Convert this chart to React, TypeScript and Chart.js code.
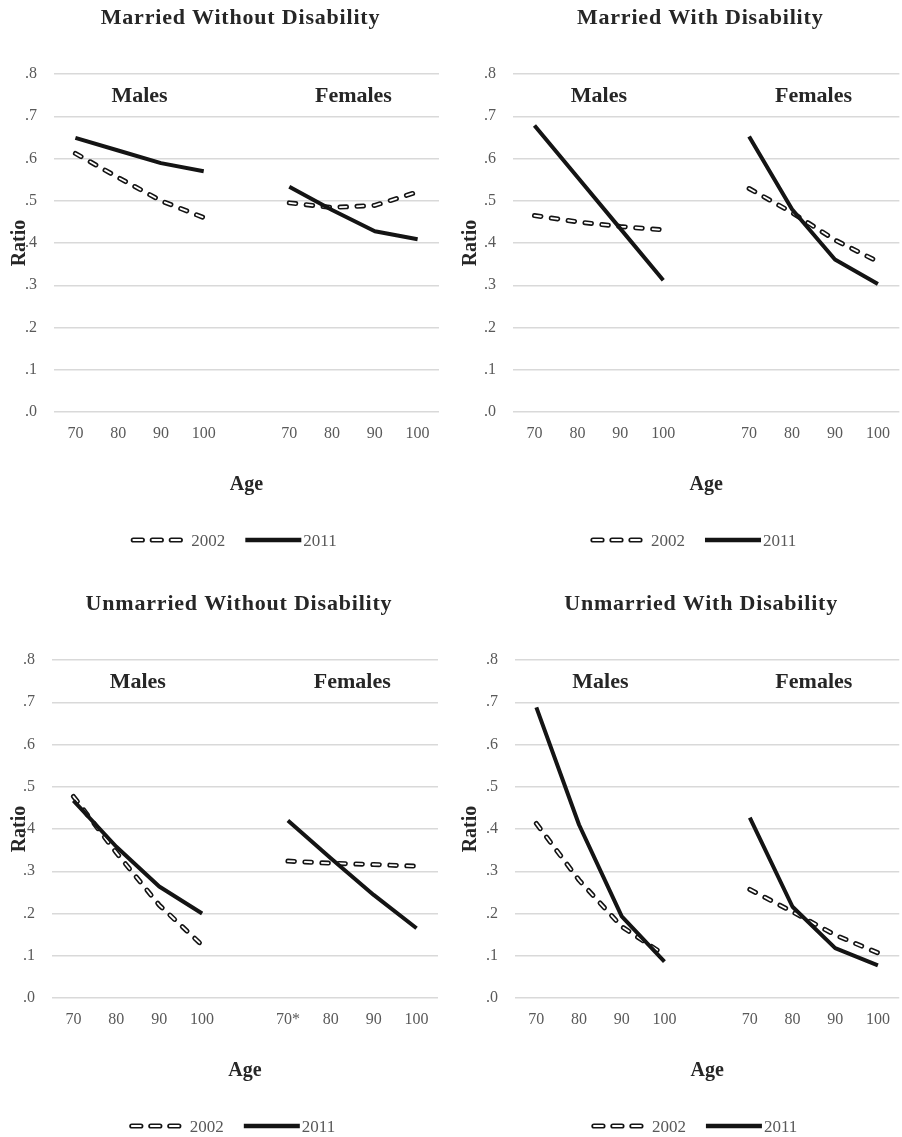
import React, { useEffect, useRef } from 'react';
import { Chart, registerables } from 'chart.js';

Chart.register(...registerables);

// ---------- data ----------
const maleAges = ['70', '80', '90', '100'];
const femaleAges = ['70', '80', '90', '100'];
const femaleAgesStar = ['70*', '80', '90', '100'];
const yTickLabels = ['.0', '.1', '.2', '.3', '.4', '.5', '.6', '.7', '.8'];
const sexLabels = ['Males', 'Females'];
const yearLabels = ['2002', '2011'];
const xAxisTitle = 'Age';
const yAxisTitle = 'Ratio';

const panelTitles = [
  'Married Without Disability',
  'Married With Disability',
  'Unmarried Without Disability',
  'Unmarried With Disability',
];

// Married Without Disability
const mwdMale2002 = [0.612, 0.555, 0.5, 0.46];
const mwdMale2011 = [0.649, 0.619, 0.589, 0.57];
const mwdFemale2002 = [0.495, 0.484, 0.489, 0.521];
const mwdFemale2011 = [0.533, 0.478, 0.428, 0.409];

// Married With Disability
const mdMale2002 = [0.465, 0.45, 0.439, 0.431];
const mdMale2011 = [0.678, 0.556, 0.434, 0.312];
const mdFemale2002 = [0.529, 0.472, 0.407, 0.356];
const mdFemale2011 = [0.652, 0.48, 0.361, 0.303];

// Unmarried Without Disability
const uwdMale2002 = [0.477, 0.344, 0.22, 0.125];
const uwdMale2011 = [0.467, 0.358, 0.264, 0.2];
const uwdFemale2002 = [0.324, 0.319, 0.316, 0.312];
const uwdFemale2011 = [0.42, 0.331, 0.244, 0.165];

// Unmarried With Disability
const udMale2002 = [0.413, 0.279, 0.169, 0.102];
const udMale2011 = [0.688, 0.41, 0.193, 0.086];
const udFemale2002 = [0.257, 0.204, 0.149, 0.107];
const udFemale2011 = [0.427, 0.216, 0.118, 0.077];

// ---------- styling ----------
const FONT = "'Liberation Serif', 'Times New Roman', serif";
const TEXT_DARK = '#262626';
const TEXT_GREY = '#595959';
const LINE_COLOR = '#141414';
const GRID_COLOR = '#d9d9d9';

type PanelSpec = {
  title: string;
  femaleLabels: string[];
  m02: number[];
  m11: number[];
  f02: number[];
  f11: number[];
  left: number;
  top: number;
  width: number;
  height: number;
  areaLeft: number;
  areaRight: number;
  areaTop: number;
  areaBottom: number;
};

const panels: PanelSpec[] = [
  { title: panelTitles[0], femaleLabels: femaleAges, m02: mwdMale2002, m11: mwdMale2011, f02: mwdFemale2002, f11: mwdFemale2011,
    left: 0, top: 0, width: 451, height: 587, areaLeft: 54, areaRight: 439, areaTop: 74, areaBottom: 412 },
  { title: panelTitles[1], femaleLabels: femaleAges, m02: mdMale2002, m11: mdMale2011, f02: mdFemale2002, f11: mdFemale2011,
    left: 451, top: 0, width: 451, height: 587, areaLeft: 62, areaRight: 449, areaTop: 74, areaBottom: 412 },
  { title: panelTitles[2], femaleLabels: femaleAgesStar, m02: uwdMale2002, m11: uwdMale2011, f02: uwdFemale2002, f11: uwdFemale2011,
    left: 0, top: 587, width: 451, height: 550, areaLeft: 52, areaRight: 438, areaTop: 73, areaBottom: 411 },
  { title: panelTitles[3], femaleLabels: femaleAges, m02: udMale2002, m11: udMale2011, f02: udFemale2002, f11: udFemale2011,
    left: 451, top: 587, width: 451, height: 550, areaLeft: 64, areaRight: 449, areaTop: 73, areaBottom: 411 },
];

const X_SCALE_H = 30;

function drawPill(ctx: CanvasRenderingContext2D, x0: number, x1: number, y: number) {
  ctx.beginPath();
  ctx.moveTo(x0, y);
  ctx.lineTo(x1, y);
  ctx.strokeStyle = LINE_COLOR;
  ctx.lineWidth = 5.2;
  ctx.lineCap = 'round';
  ctx.stroke();
  ctx.beginPath();
  ctx.moveTo(x0, y);
  ctx.lineTo(x1, y);
  ctx.strokeStyle = '#ffffff';
  ctx.lineWidth = 1.8;
  ctx.stroke();
}

function Panel({ spec }: { spec: PanelSpec }) {
  const ref = useRef<HTMLCanvasElement | null>(null);

  useEffect(() => {
    if (!ref.current) return;
    const labels = [...maleAges, '', ...spec.femaleLabels];
    const d02 = [...spec.m02, null, ...spec.f02];
    const d11 = [...spec.m11, null, ...spec.f11];

    const overlay = {
      id: 'overlay',
      afterDraw(chart: any) {
        const { ctx, chartArea } = chart;
        const xs = chart.scales.x;
        const cx = (chartArea.left + chartArea.right) / 2;
        ctx.save();
        ctx.setLineDash([]);
        ctx.fillStyle = TEXT_DARK;
        ctx.textAlign = 'center';
        ctx.textBaseline = 'alphabetic';

        // title
        ctx.font = `bold 22px ${FONT}`;
        (ctx as any).letterSpacing = '0.8px';
        ctx.fillText(spec.title, cx - 6, chartArea.top - 50);
        (ctx as any).letterSpacing = '0px';

        // Males / Females
        ctx.font = `bold 22px ${FONT}`;
        ctx.fillText(sexLabels[0], xs.getPixelForValue(1.5), chartArea.top + 28);
        ctx.fillText(sexLabels[1], xs.getPixelForValue(6.5), chartArea.top + 28);

        // x axis title
        ctx.font = `bold 20px ${FONT}`;
        ctx.fillText(xAxisTitle, cx, chartArea.bottom + 78);

        // y axis title
        ctx.save();
        ctx.translate(24.5, (chartArea.top + chartArea.bottom) / 2);
        ctx.rotate(-Math.PI / 2);
        ctx.fillText(yAxisTitle, 0, 0);
        ctx.restore();

        // legend
        ctx.font = `17px ${FONT}`;
        const w1 = ctx.measureText(yearLabels[0]).width;
        const w2 = ctx.measureText(yearLabels[1]).width;
        const s1 = 54, g1 = 7, g2 = 20, s2 = 56, g3 = 2;
        const total = s1 + g1 + w1 + g2 + s2 + g3 + w2;
        let x = cx - 13 - total / 2;
        const ly = chartArea.bottom + 128;
        for (let i = 0; i < 3; i++) {
          const px = x + 3 + i * 19;
          drawPill(ctx, px, px + 9, ly);
        }
        x += s1 + g1;
        ctx.fillStyle = TEXT_GREY;
        ctx.textAlign = 'left';
        ctx.fillText(yearLabels[0], x, ly + 6);
        x += w1 + g2;
        ctx.beginPath();
        ctx.moveTo(x, ly);
        ctx.lineTo(x + s2, ly);
        ctx.strokeStyle = LINE_COLOR;
        ctx.lineWidth = 4.5;
        ctx.lineCap = 'butt';
        ctx.stroke();
        x += s2 + g3;
        ctx.fillText(yearLabels[1], x, ly + 6);
        ctx.restore();
      },
    };

    const chart = new Chart(ref.current, {
      type: 'line',
      data: {
        labels,
        datasets: [
          {
            label: yearLabels[1],
            data: d11,
            borderColor: LINE_COLOR,
            borderWidth: 4,
            borderCapStyle: 'butt',
            borderJoinStyle: 'round',
            pointRadius: 0,
            spanGaps: false,
            tension: 0,
            order: 0,
          },
          {
            label: yearLabels[0] + ' inner',
            data: d02,
            borderColor: '#ffffff',
            borderWidth: 1.8,
            borderDash: [6.5, 10.5],
            borderCapStyle: 'round',
            borderJoinStyle: 'round',
            pointRadius: 0,
            spanGaps: false,
            tension: 0,
            order: 1,
          },
          {
            label: yearLabels[0],
            data: d02,
            borderColor: LINE_COLOR,
            borderWidth: 5,
            borderDash: [6.5, 10.5],
            borderCapStyle: 'round',
            borderJoinStyle: 'round',
            pointRadius: 0,
            spanGaps: false,
            tension: 0,
            order: 2,
          },
        ] as any,
      },
      options: {
        responsive: false,
        animation: false,
        events: [],
        layout: {
          padding: {
            left: 0,
            top: spec.areaTop,
            right: spec.width - spec.areaRight,
            bottom: spec.height - spec.areaBottom - X_SCALE_H,
          },
        },
        plugins: {
          legend: { display: false },
          title: { display: false },
          tooltip: { enabled: false },
        },
        scales: {
          x: {
            type: 'category',
            offset: true,
            grid: { display: false, drawTicks: false, offset: true },
            border: { display: false },
            ticks: {
              autoSkip: false,
              maxRotation: 0,
              padding: 12,
              color: TEXT_GREY,
              font: { family: FONT, size: 16 },
            },
            afterFit: (scale: any) => {
              scale.height = X_SCALE_H;
            },
          },
          y: {
            min: 0,
            max: 0.8,
            grid: { color: GRID_COLOR, lineWidth: 1.5, drawTicks: false },
            border: { display: false },
            ticks: {
              stepSize: 0.1,
              padding: 17,
              color: TEXT_GREY,
              font: { family: FONT, size: 16 },
              callback: (value: any) => yTickLabels[Math.round(Number(value) * 10)],
            },
            afterFit: (scale: any) => {
              scale.width = spec.areaLeft;
            },
          },
        },
      } as any,
      plugins: [overlay],
    });
    return () => chart.destroy();
  }, [spec]);

  return (
    <div style={{ position: 'absolute', left: spec.left, top: spec.top, width: spec.width, height: spec.height }}>
      <canvas ref={ref} width={spec.width} height={spec.height} style={{ display: 'block', width: spec.width, height: spec.height }} />
    </div>
  );
}

export default function App() {
  return (
    <div style={{ position: 'absolute', left: 0, top: 0, width: 902, height: 1137, background: '#ffffff', overflow: 'hidden' }}>
      {panels.map((p, i) => (
        <Panel key={i} spec={p} />
      ))}
    </div>
  );
}
